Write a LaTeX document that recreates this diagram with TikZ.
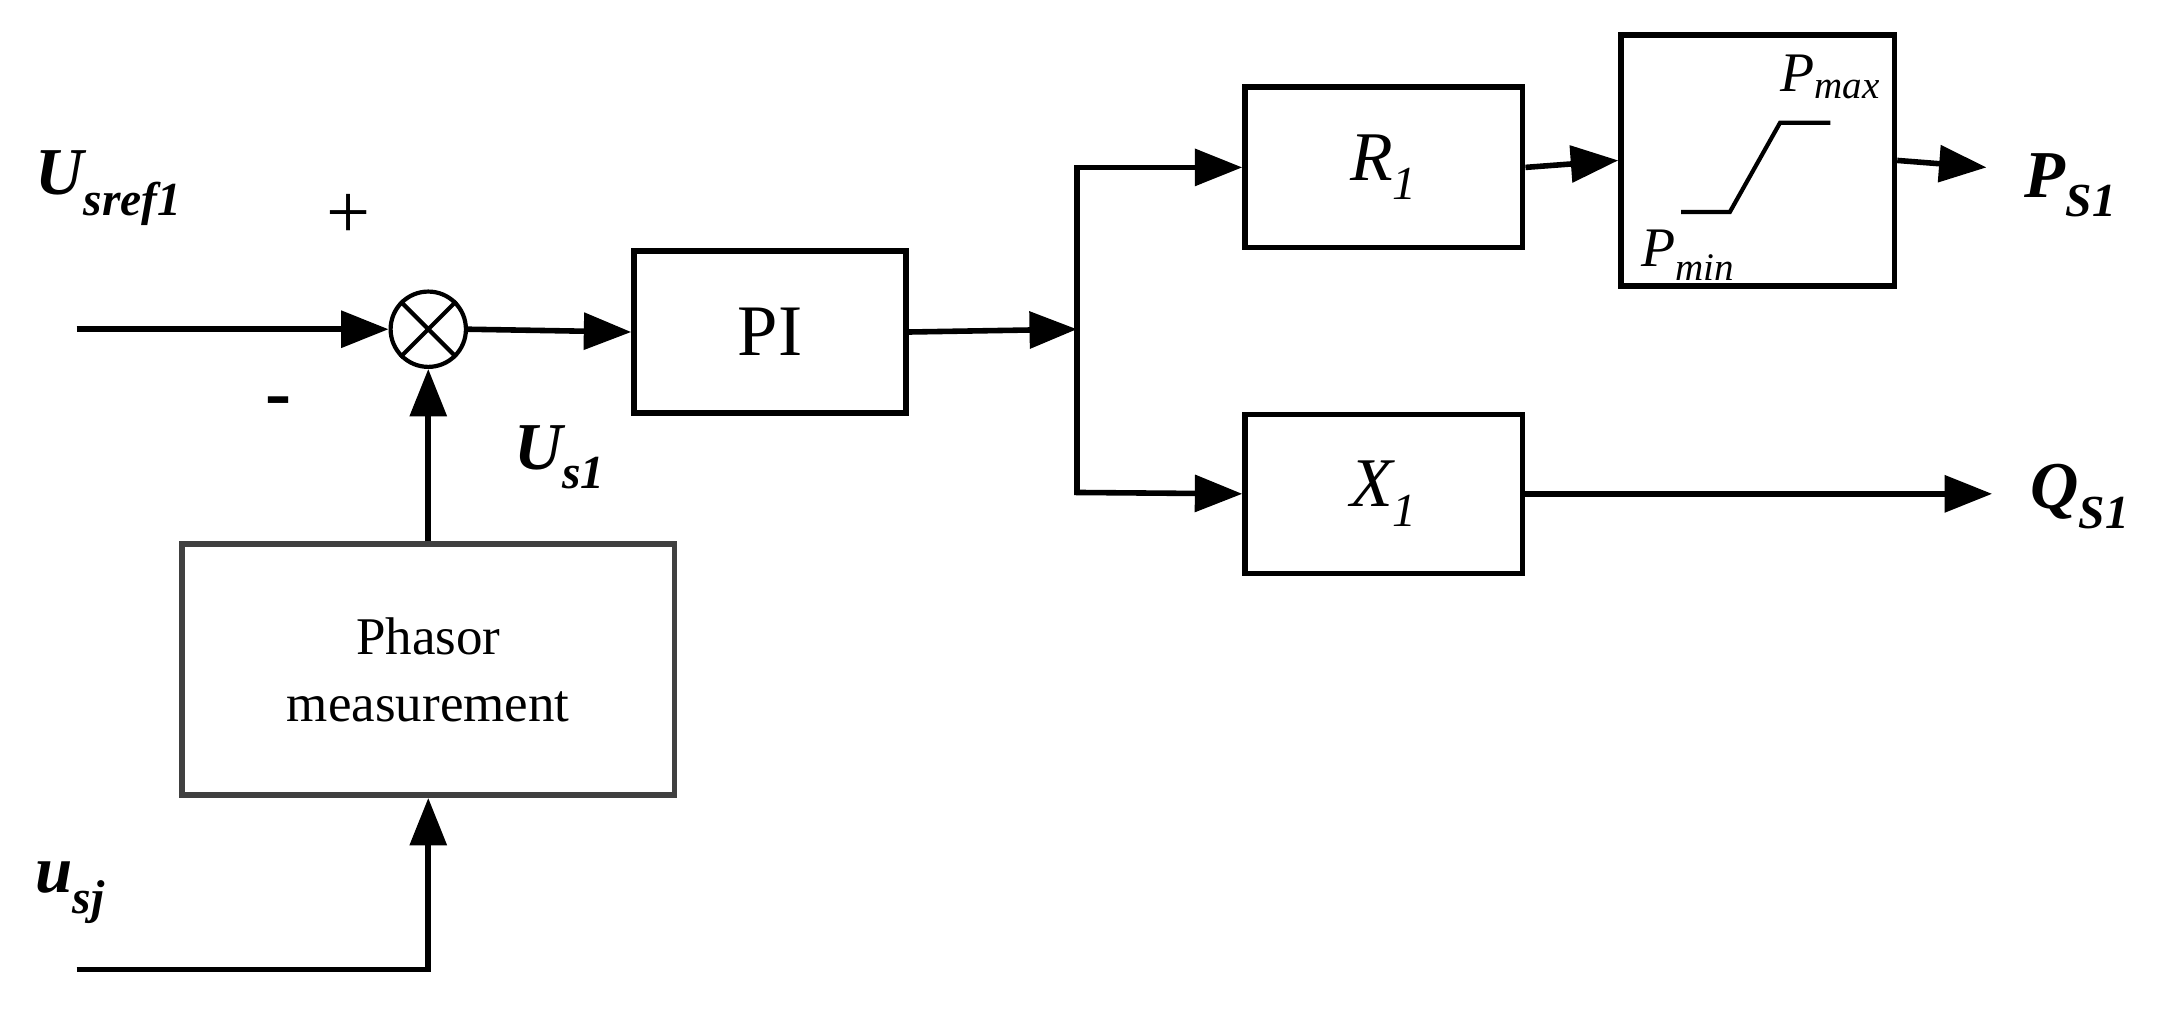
\documentclass[tikz,border=0pt]{standalone}
\usepackage{fontspec}
\setmainfont{Liberation Serif}
\usetikzlibrary{arrows.meta}
\begin{document}
\begin{tikzpicture}[x=1pt,y=-1pt,
  ln/.style={line width=4pt},
  ar/.style={line width=4pt,-{Triangle[length=34pt,width=26pt]}},
  blk/.style={draw,line width=4pt,minimum width=#1,inner sep=0pt},
  lab/.style={font=\fontsize{48}{50}\selectfont\bfseries\itshape}]
\useasboundingbox (0,0) rectangle (1562,725);
% sum
\node (sum) [circle,draw,line width=3pt,minimum size=54pt,inner sep=0pt] at (307,236) {};
\draw[line width=3pt] (sum.north west)--(sum.south east) (sum.north east)--(sum.south west);
\coordinate (in1) at (55,236);
\draw[ar] (in1) -- (sum.west);
\node[font=\fontsize{56}{58}\selectfont] at (250,155) {+};
\node[font=\fontsize{56}{58}\selectfont\bfseries] at (200,292) {-};
\node[lab,anchor=west] at (22,135) {U\textsubscript{\fontsize{34}{36}\selectfont sref1}};
% PI
\node (pi) [blk=195pt,minimum height=116pt,font=\fontsize{52}{54}\selectfont] at (552,238) {PI};
\draw[ar] (sum.east) -- (pi.west);
\coordinate (j) at (772,236);
\draw[ar] (pi.east) -- (j);
\coordinate (jt) at (772,120);
\coordinate (jb) at (772,353);
\draw[ln] (jt) -- (jb);
% R1
\node (r1) [blk=199pt,minimum height=115pt,font=\fontsize{50}{52}\selectfont\itshape] at (992,120) {R\textsubscript{\fontsize{34}{36}\selectfont 1}};
\draw[ar] ([xshift=-2pt]jt) -- (r1.west);
% X1
\node (x1) [blk=199pt,minimum height=114pt,font=\fontsize{50}{52}\selectfont\itshape] at (992,354) {X\textsubscript{\fontsize{34}{36}\selectfont 1}};
\draw[ar] ([xshift=-2pt]jb) -- (x1.west);
% saturation
\node (sat) [blk=196pt,minimum height=180pt] at (1260,115) {};
\draw[ar] (r1.east) -- (sat.west);
\draw[line width=3pt] (1205,152) -- (1240,152) -- (1276,88) -- (1312,88);
\node[font=\fontsize{40}{42}\selectfont\itshape] at (1312,55) {P\textsubscript{\fontsize{28}{30}\selectfont max}};
\node[font=\fontsize{40}{42}\selectfont\itshape] at (1210,183) {P\textsubscript{\fontsize{28}{30}\selectfont min}};
\coordinate (pout) at (1424,120);
\draw[ar] (sat.east) -- (pout);
\node[lab,anchor=west] at (1448,133) {P\textsubscript{\fontsize{34}{36}\selectfont S1}};
\coordinate (qout) at (1428,354);
\draw[ar] (x1.east) -- (qout);
\node[lab,anchor=west] at (1452,356) {Q\textsubscript{\fontsize{34}{36}\selectfont S1}};
% phasor
\node (ph) [draw=black!75,line width=4pt,minimum width=353pt,minimum height=180pt,align=center,font=\fontsize{38}{48}\selectfont] at (307,480) {Phasor\\measurement};
\draw[ar] (ph.north) -- (sum.south);
\node[lab,anchor=west] at (365,328) {U\textsubscript{\fontsize{34}{36}\selectfont s1}};
\coordinate (in2) at (55,695);
\coordinate (c2) at (307,695);
\draw[ar] (in2) -- (c2) -- (ph.south);
\node[lab,anchor=west] at (22,640) {u\textsubscript{\fontsize{34}{36}\selectfont sj}};
\end{tikzpicture}
\end{document}
